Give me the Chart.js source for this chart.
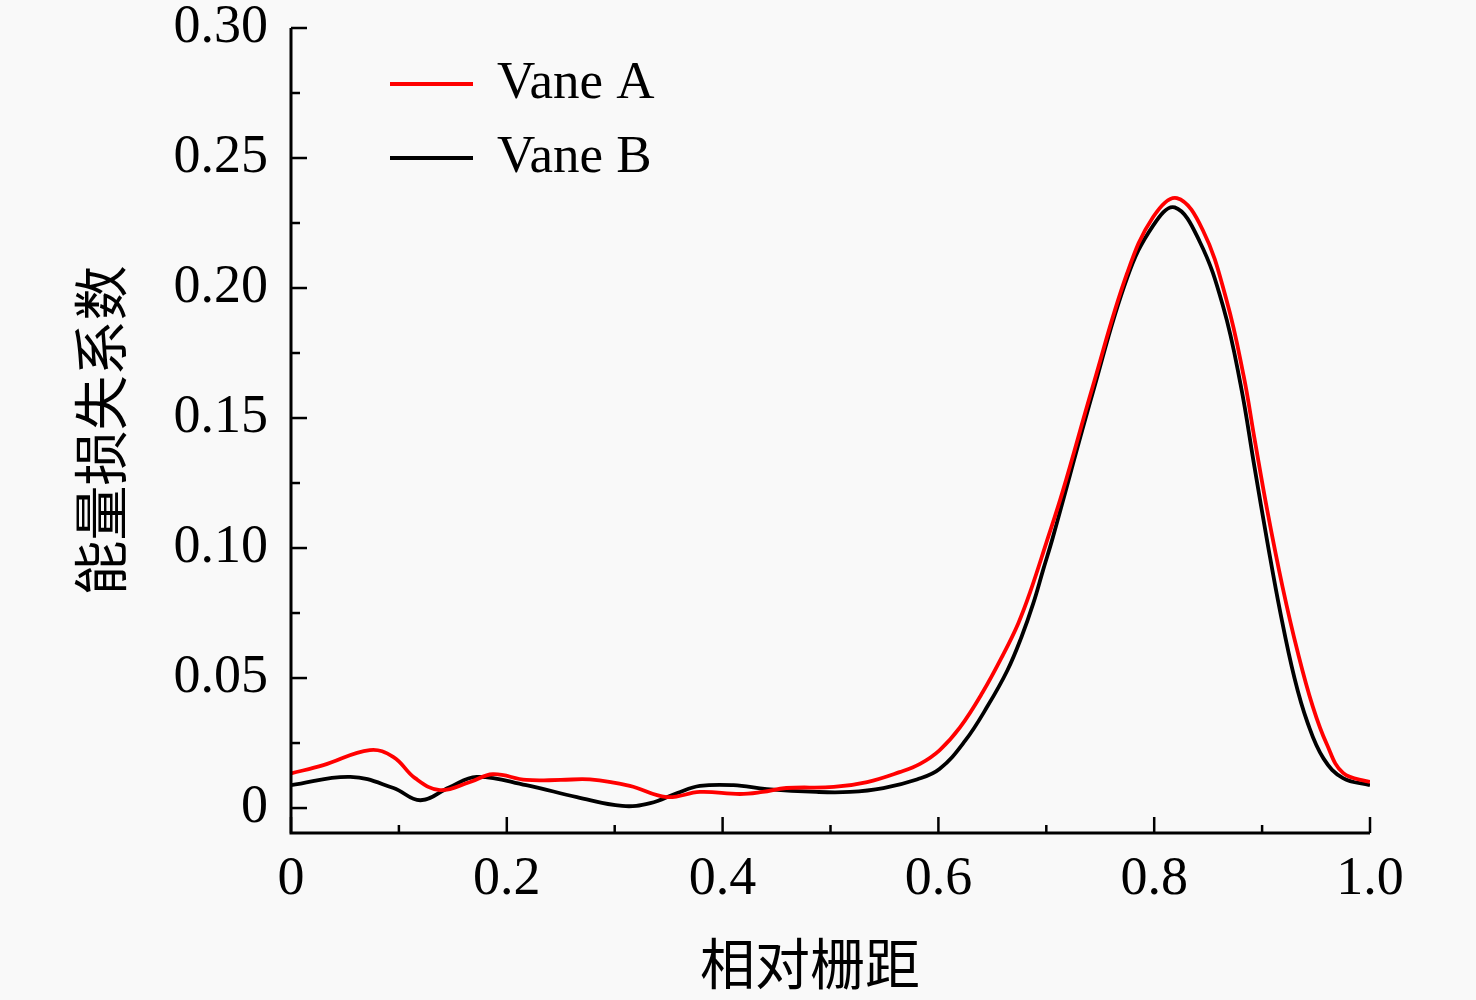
<!DOCTYPE html>
<html lang="zh">
<head>
    <meta charset="UTF-8">
    <title>能量损失系数</title>
    <script src="https://cdn.jsdelivr.net/npm/chart.js"></script>
    <style>
        html, body {
            margin: 0;
            padding: 0;
            background: #f9f9f9;
        }
        #chartContainer {
            width: 1476px;
            height: 1000px;
        }
    </style>
</head>
<body>
    <div id="chartContainer">
        <canvas id="lossChart"></canvas>
    </div>
    <script>
        // Vane A (红线)
        const xA = [0, 0.03, 0.073, 0.095, 0.115, 0.138, 0.166, 0.187, 0.218, 0.25, 0.277, 0.314,
            0.348, 0.379, 0.416, 0.437, 0.459, 0.503, 0.534, 0.564, 0.583, 0.601, 0.620, 0.641,
            0.660, 0.674, 0.685, 0.700, 0.715, 0.743, 0.775, 0.799, 0.821, 0.845, 0.867, 0.883,
            0.893, 0.905, 0.919, 0.933, 0.947, 0.960, 0.975, 1.0];
        const yA = [0.0133, 0.0165, 0.0223, 0.0196, 0.0115, 0.0069, 0.0100, 0.0130, 0.0108, 0.0108, 0.0110, 0.0085,
            0.0042, 0.0062, 0.0054, 0.0062, 0.0077, 0.0081, 0.0100, 0.0138, 0.0170, 0.0222, 0.0310, 0.0445,
            0.0590, 0.0710, 0.0830, 0.1020, 0.1215, 0.1620, 0.2058, 0.2273, 0.2346, 0.2223, 0.1954, 0.1660,
            0.1420, 0.1140, 0.0850, 0.0600, 0.0390, 0.0245, 0.0135, 0.0100];

        // Vane B (黑线)
        const xB = [0, 0.055, 0.095, 0.12, 0.147, 0.172, 0.218, 0.265, 0.307, 0.333, 0.358, 0.379,
            0.410, 0.441, 0.487, 0.518, 0.549, 0.580, 0.601, 0.625, 0.646, 0.664, 0.677, 0.688,
            0.697, 0.706, 0.743, 0.775, 0.799, 0.819, 0.842, 0.864, 0.880, 0.893, 0.905, 0.917,
            0.930, 0.942, 0.957, 0.975, 1.0];
        const yB = [0.0088, 0.0120, 0.0077, 0.0030, 0.0080, 0.0120, 0.0088, 0.0042, 0.0008, 0.0019, 0.0058, 0.0085,
            0.0088, 0.0073, 0.0062, 0.0062, 0.0077, 0.0110, 0.0150, 0.0260, 0.0395, 0.0530, 0.0658, 0.0788,
            0.0915, 0.1040, 0.1596, 0.2040, 0.2240, 0.2310, 0.2180, 0.1927, 0.1630, 0.1310, 0.1020, 0.0750,
            0.0500, 0.0330, 0.0190, 0.0115, 0.0088];

        const xTicks = [0, 0.2, 0.4, 0.6, 0.8, 1.0];
        const xTickLabels = ['0', '0.2', '0.4', '0.6', '0.8', '1.0'];
        const xMinor = [0.1, 0.3, 0.5, 0.7, 0.9];
        const yTicks = [0, 0.05, 0.10, 0.15, 0.20, 0.25, 0.30];
        const yTickLabels = ['0', '0.05', '0.10', '0.15', '0.20', '0.25', '0.30'];
        const yMinor = [0.025, 0.075, 0.125, 0.175, 0.225, 0.275];

        const seriesNames = ['Vane A', 'Vane B'];
        const xTitle = '相对栅距';
        const yTitle = '能量损失系数';

        const serif = '"Liberation Serif", "Times New Roman", serif';
        const cjk = '"Noto Sans CJK SC", sans-serif';

        // 轴线、向内刻度、图例和轴标题
        const decorPlugin = {
            id: 'decor',
            afterDraw(chart) {
                const ctx = chart.ctx;
                const xs = chart.scales.x;
                const ys = chart.scales.y;
                const area = chart.chartArea;
                ctx.save();
                ctx.strokeStyle = '#000';
                ctx.lineWidth = 3;
                ctx.lineCap = 'butt';
                ctx.beginPath();
                ctx.moveTo(area.left, area.top);
                ctx.lineTo(area.left, area.bottom);
                ctx.lineTo(area.right, area.bottom);
                ctx.stroke();

                ctx.lineWidth = 2.5;
                xTicks.forEach(v => {
                    const px = xs.getPixelForValue(v);
                    ctx.beginPath();
                    ctx.moveTo(px, area.bottom);
                    ctx.lineTo(px, area.bottom - 16);
                    ctx.stroke();
                });
                xMinor.forEach(v => {
                    const px = xs.getPixelForValue(v);
                    ctx.beginPath();
                    ctx.moveTo(px, area.bottom);
                    ctx.lineTo(px, area.bottom - 8);
                    ctx.stroke();
                });
                yTicks.forEach(v => {
                    const py = ys.getPixelForValue(v);
                    ctx.beginPath();
                    ctx.moveTo(area.left, py);
                    ctx.lineTo(area.left + 16, py);
                    ctx.stroke();
                });
                yMinor.forEach(v => {
                    const py = ys.getPixelForValue(v);
                    ctx.beginPath();
                    ctx.moveTo(area.left, py);
                    ctx.lineTo(area.left + 9, py);
                    ctx.stroke();
                });

                // 图例
                ctx.font = '53px ' + serif;
                ctx.textAlign = 'left';
                ctx.textBaseline = 'middle';
                chart.data.datasets.forEach((ds, i) => {
                    const ly = 84 + i * 74;
                    ctx.strokeStyle = ds.borderColor;
                    ctx.lineWidth = 4;
                    ctx.beginPath();
                    ctx.moveTo(390, ly);
                    ctx.lineTo(473, ly);
                    ctx.stroke();
                    ctx.fillStyle = '#000';
                    ctx.fillText(ds.label, 497, ly);
                });

                // 轴标题
                ctx.font = '55px ' + cjk;
                ctx.fillStyle = '#000';
                ctx.textAlign = 'center';
                ctx.textBaseline = 'middle';
                ctx.fillText(xTitle, 810, 963);
                ctx.translate(100, (area.top + area.bottom) / 2);
                ctx.rotate(-Math.PI / 2);
                ctx.fillText(yTitle, 0, 0);
                ctx.restore();
            }
        };

        const ctx = document.getElementById('lossChart').getContext('2d');
        const lossChart = new Chart(ctx, {
            type: 'line',
            data: {
                datasets: [{
                    label: seriesNames[0],
                    data: xA.map((x, i) => ({ x: x, y: yA[i] })),
                    borderColor: '#ff0000',
                    borderWidth: 3.8,
                    pointRadius: 0,
                    tension: 0.4,
                    fill: false,
                    order: 1
                },
                {
                    label: seriesNames[1],
                    data: xB.map((x, i) => ({ x: x, y: yB[i] })),
                    borderColor: '#000000',
                    borderWidth: 3.8,
                    pointRadius: 0,
                    tension: 0.4,
                    fill: false,
                    order: 2
                }]
            },
            options: {
                responsive: true,
                maintainAspectRatio: false,
                animation: false,
                layout: {
                    padding: { left: 0, top: 28, right: 106, bottom: 0 }
                },
                plugins: {
                    legend: { display: false },
                    tooltip: { enabled: false }
                },
                scales: {
                    x: {
                        type: 'linear',
                        min: 0,
                        max: 1.0,
                        grid: { display: false, drawTicks: false },
                        border: { display: false },
                        afterBuildTicks(scale) {
                            scale.ticks = xTicks.map(v => ({ value: v }));
                        },
                        afterFit(scale) {
                            scale.height = 167;
                            scale.paddingLeft = 0;
                            scale.paddingRight = 0;
                        },
                        ticks: {
                            padding: 14,
                            color: '#000',
                            maxRotation: 0,
                            autoSkip: false,
                            font: { family: serif, size: 54 },
                            callback: (v, i) => xTickLabels[i]
                        }
                    },
                    y: {
                        min: -0.0096,
                        max: 0.30,
                        grid: { display: false, drawTicks: false },
                        border: { display: false },
                        afterBuildTicks(scale) {
                            scale.ticks = yTicks.map(v => ({ value: v }));
                        },
                        afterFit(scale) {
                            scale.width = 291;
                            scale.paddingTop = 0;
                            scale.paddingBottom = 0;
                        },
                        ticks: {
                            padding: 23,
                            color: '#000',
                            autoSkip: false,
                            font: { family: serif, size: 54 },
                            callback: (v, i) => yTickLabels[i]
                        }
                    }
                }
            },
            plugins: [decorPlugin]
        });
    </script>
</body>
</html>
